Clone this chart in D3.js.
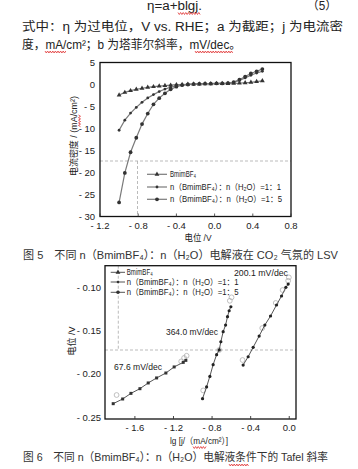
<!DOCTYPE html>
<html><head><meta charset="utf-8">
<script src="https://cdn.jsdelivr.net/npm/d3@7"></script>
<style>body{margin:0;background:#fff}svg{display:block}</style>
</head><body>
<script>
// ---------- Fig.5 LSV data ----------
const lsvNames = ["BmimBF₄", "n（BmimBF₄）：n（H₂O）=1：1", "n（BmimBF₄）：n（H₂O）=1：5"];
const lsvX   = [-1.0,-0.94,-0.88,-0.82,-0.76,-0.70,-0.64,-0.58,-0.52,-0.46,-0.40,-0.34,-0.28,-0.22,-0.16,-0.10,-0.04,0.02,0.08,0.14,0.20,0.26,0.32,0.38,0.44,0.50];
const lsvBmim = [-2.4,-1.8,-1.4,-1.1,-0.85,-0.65,-0.5,-0.35,-0.25,-0.15,-0.05,0.0,0.05,0.1,0.1,0.15,0.15,0.2,0.2,0.2,0.25,0.3,0.4,0.5,0.65,0.85];
const lsv11  = [-10.4,-8.1,-6.5,-5.2,-4.05,-3.05,-2.3,-1.6,-1.05,-0.6,-0.3,-0.1,0.05,0.1,0.15,0.2,0.2,0.25,0.25,0.3,0.45,0.9,1.5,2.1,2.6,3.0];
const lsv15  = [-26.8,-20.1,-15.4,-12.1,-9.0,-6.6,-4.5,-3.1,-2.0,-1.1,-0.5,-0.15,0.0,0.1,0.15,0.2,0.2,0.25,0.25,0.3,0.55,1.1,1.8,2.5,3.0,3.5];
const lsvXTicks = [-1.2,-0.8,-0.4,0.0,0.4,0.8];
const lsvYTicks = [5,0,-5,-10,-15,-20,-25,-30];
const lsvXTickLabels = ["- 1.2","- 0.8","- 0.4","0.0","0.4","0.8"];
const lsvYTickLabels = ["5","0","- 5","- 10","- 15","- 20","- 25","- 30"];

// ---------- Fig.6 Tafel data ----------
const tafBmimX = [-1.825,-1.727,-1.641,-1.548,-1.462,-1.375,-1.279,-1.193,-1.099,-1.072];
const tafBmimY = [-0.2343,-0.2289,-0.2224,-0.2170,-0.2104,-0.2046,-0.1989,-0.1919,-0.1866,-0.1843];
const tafBmimOX = [-1.79,-1.12,-1.09,-1.064];
const tafBmimOY = [-0.2243,-0.1855,-0.1815,-0.1790];
const taf11X = [-0.899,-0.857,-0.823,-0.789,-0.753,-0.726,-0.709,-0.685,-0.660,-0.640,-0.623,-0.605];
const taf11Y = [-0.2285,-0.2150,-0.2028,-0.1893,-0.1777,-0.1723,-0.1628,-0.1512,-0.1435,-0.1339,-0.1270,-0.1224];
const taf11OX = [-0.892,-0.726,-0.616,-0.598];
const taf11OY = [-0.219,-0.1723,-0.1155,-0.1115];
const taf15X = [-0.478,-0.426,-0.374,-0.312,-0.253,-0.194,-0.132,-0.080,-0.035,-0.011];
const taf15Y = [-0.1897,-0.1801,-0.1692,-0.1562,-0.1435,-0.1331,-0.1204,-0.1100,-0.1000,-0.0962];
const taf15OX = [-0.484,-0.28,-0.14,-0.069,-0.011,-0.004];
const taf15OY = [-0.1839,-0.147,-0.118,-0.1031,-0.0924,-0.0885];
const tafSlopes = ["67.6 mV/dec","364.0 mV/dec","200.1 mV/dec"];
const tafXTicks = [-1.6,-1.2,-0.8,-0.4,0.0];
const tafYTicks = [-0.10,-0.15,-0.20,-0.25];
const tafXTickLabels = ["- 1.6","- 1.2","- 0.8","- 0.4","0.0"];
const tafYTickLabels = ["- 0.10","- 0.15","- 0.20","- 0.25"];

const FONT = '"Liberation Sans", Arial, "DejaVu Sans", "Noto Sans CJK SC", sans-serif';
const TXT = "#222";

const svg = d3.select("body").append("svg").attr("width",358).attr("height",469)
  .style("font-family", FONT);

function txt(x, y, s, o = {}) {
  const t = svg.append("text").attr("x", x).attr("y", y)
    .attr("font-size", o.size || 10).attr("fill", o.fill || TXT)
    .attr("text-anchor", o.anchor || "start").text(s);
  if (o.len) t.attr("textLength", o.len).attr("lengthAdjust", "spacingAndGlyphs");
  if (o.rot) t.attr("transform", `rotate(${o.rot},${x},${y})`);
  return t;
}
function squiggle(x1, x2, y, vertical) {
  const pts = []; let i = 0;
  for (let p = x1; p <= x2; p += 1.3, i++) pts.push(vertical ? [y + (i % 2 ? 1 : -1), p] : [p, y + (i % 2 ? 1 : -1)]);
  svg.append("path").attr("d", d3.line()(pts)).attr("fill","none").attr("stroke","#e03030").attr("stroke-width",0.8);
}

// ---------- body text ----------
txt(147, 10, "η=a+blgj.", {size: 12, len: 55});
txt(307, 10, "（5）", {size: 12, len: 30});
txt(22, 31, "式中：η  为过电位，V vs. RHE；a  为截距；j  为电流密", {size: 12, len: 321});
txt(22, 48.6, "度，mA/cm²；b 为塔菲尔斜率，mV/dec。", {size: 12, len: 219});
squiggle(178, 201, 13.5); squiggle(45, 66, 52); squiggle(195, 234, 52);

// ---------- Fig 5 ----------
const x1 = d3.scaleLinear().domain([-1.2, 0.8]).range([100, 291]);
const y1 = d3.scaleLinear().domain([-30, 5]).range([216.5, 62.5]);
const g1 = svg.append("g");
g1.append("line").attr("x1", x1.range()[0]).attr("x2", x1.range()[1]).attr("y1", 161).attr("y2", 161)
  .attr("stroke","#aaa").attr("stroke-width",0.8).attr("stroke-dasharray","3,2");
g1.append("line").attr("x1", 137.5).attr("x2", 137.5).attr("y1", 161).attr("y2", 216.5)
  .attr("stroke","#aaa").attr("stroke-width",0.8).attr("stroke-dasharray","3,2");

const lsvData = [lsvBmim, lsv11, lsv15].map(ys => lsvX.map((x, i) => [x, ys[i]]));
const line1 = d3.line().x(d => x1(d[0])).y(d => y1(d[1]));
const tri = d3.symbol().type(d3.symbolTriangle).size(10);
lsvData.forEach((data, k) => {
  g1.append("path").attr("d", line1(data)).attr("fill","none").attr("stroke","#7a7a7a").attr("stroke-width",1.2);
  const m = g1.append("g").attr("fill","#333");
  data.forEach(d => {
    if (k === 0) m.append("path").attr("d", tri).attr("transform", `translate(${x1(d[0])},${y1(d[1])})`);
    else m.append("circle").attr("cx", x1(d[0])).attr("cy", y1(d[1])).attr("r", k === 1 ? 1.4 : 1.9);
  });
});
g1.append("rect").attr("x",100).attr("y",62.5).attr("width",191).attr("height",154)
  .attr("fill","none").attr("stroke","#111").attr("stroke-width",1.3);
lsvXTicks.forEach((v, i) => {
  g1.append("line").attr("x1", x1(v)).attr("x2", x1(v)).attr("y1", 216.5).attr("y2", 213.5).attr("stroke","#333").attr("stroke-width",0.8);
  txt(x1(v), 228.5, lsvXTickLabels[i], {size: 9.5, anchor: "middle"});
});
lsvYTicks.forEach((v, i) => txt(95, y1(v) + 3.4, lsvYTickLabels[i], {size: 9.5, anchor: "end"}));
txt(198, 241, "电位 /V", {size: 9.5, anchor: "middle", len: 27});
txt(76.5, 136, "电流密度 / (mA/cm²)", {size: 9.5, anchor: "middle", rot: -90, len: 80});
squiggle(115, 127, 79.5, true);

const leg1Y = [174.3, 187, 199.3];
const leg1L = [26, 111, 112];
leg1Y.forEach((y, k) => {
  g1.append("line").attr("x1",147).attr("x2",167).attr("y1",y).attr("y2",y).attr("stroke","#7a7a7a").attr("stroke-width",1.2);
  if (k === 0) g1.append("path").attr("d", tri).attr("transform", `translate(157,${y})`).attr("fill","#333");
  else g1.append("circle").attr("cx",157).attr("cy",y).attr("r", k === 1 ? 1.4 : 1.9).attr("fill","#333");
  txt(170, y + 3, lsvNames[k], {size: 8.5, len: leg1L[k]});
});

txt(23, 258.5, "图 5　不同 n（BmimBF₄）：n（H₂O）电解液在 CO₂ 气氛的 LSV", {size: 11.5, len: 315, fill: "#333"});

// ---------- Fig 6 ----------
const x2 = d3.scaleLinear().domain([-1.91, 0.07]).range([105, 296]);
const y2 = d3.scaleLinear().domain([-0.252, -0.075]).range([419, 265.7]);
const g2 = svg.append("g");
g2.append("line").attr("x1", 118.3).attr("x2", 118.3).attr("y1", 265.7).attr("y2", 350)
  .attr("stroke","#aaa").attr("stroke-width",0.8).attr("stroke-dasharray","3,2");
g2.append("line").attr("x1", 105).attr("x2", 296).attr("y1", 350).attr("y2", 350)
  .attr("stroke","#aaa").attr("stroke-width",0.8).attr("stroke-dasharray","3,2");

const line2 = d3.line().x(d => x2(d[0])).y(d => y2(d[1]));
const tafFit = [[tafBmimX, tafBmimY], [taf11X, taf11Y], [taf15X, taf15Y]];
const tafOpen = [[tafBmimOX, tafBmimOY], [taf11OX, taf11OY], [taf15OX, taf15OY]];
tafOpen.forEach(([xs, ys]) => {
  xs.forEach((x, i) => g2.append("circle").attr("cx", x2(x)).attr("cy", y2(ys[i])).attr("r", 2.4)
    .attr("fill","none").attr("stroke","#b0b0b0").attr("stroke-width",0.8));
});
tafFit.forEach(([xs, ys], k) => {
  const data = xs.map((x, i) => [x, ys[i]]);
  g2.append("path").attr("d", line2(data)).attr("fill","none").attr("stroke","#555").attr("stroke-width",1);
  data.forEach(d => {
    if (k === 0) g2.append("rect").attr("x", x2(d[0]) - 1.5).attr("y", y2(d[1]) - 1.5).attr("width",3).attr("height",3).attr("fill","#333");
    else g2.append("circle").attr("cx", x2(d[0])).attr("cy", y2(d[1])).attr("r", 1.6).attr("fill","#222");
  });
});
g2.append("rect").attr("x",105).attr("y",265.7).attr("width",191).attr("height",153.3)
  .attr("fill","none").attr("stroke","#111").attr("stroke-width",1.3);
tafXTicks.forEach((v, i) => {
  g2.append("line").attr("x1", x2(v)).attr("x2", x2(v)).attr("y1", 419).attr("y2", 416).attr("stroke","#333").attr("stroke-width",0.9);
  txt(x2(v), 430.7, tafXTickLabels[i], {size: 9.5, anchor: "middle"});
});
tafYTicks.forEach((v, i) => txt(101, y2(v) + 3.4, tafYTickLabels[i], {size: 9.5, anchor: "end"}));
txt(199, 444, "lg [j/（mA/cm²）]", {size: 9, anchor: "middle", len: 58});
squiggle(193, 207, 447.5);
txt(74.5, 341, "电位 /V", {size: 9.5, anchor: "middle", rot: -90, len: 29});

txt(114, 370, tafSlopes[0], {size: 9, len: 48});
txt(166, 335, tafSlopes[1], {size: 9, len: 52});
txt(234, 276, tafSlopes[2], {size: 9, len: 54});

const leg2Y = [272.3, 282, 292.3];
const leg2L = [26, 112, 112];
leg2Y.forEach((y, k) => {
  g2.append("line").attr("x1",110.7).attr("x2",125).attr("y1",y).attr("y2",y).attr("stroke","#555").attr("stroke-width",1);
  if (k === 0) g2.append("path").attr("d", tri).attr("transform", `translate(118,${y})`).attr("fill","#333");
  else g2.append("circle").attr("cx",118).attr("cy",y).attr("r", k === 1 ? 1.3 : 1.8).attr("fill","#333");
  txt(126.7, y + 3, lsvNames[k], {size: 8.5, len: leg2L[k]});
});

txt(23, 460.8, "图 6　不同 n（BmimBF₄）：n（H₂O）电解液条件下的 Tafel 斜率", {size: 11.5, len: 305, fill: "#333"});
squiggle(229, 249, 465);
</script>
</body></html>
